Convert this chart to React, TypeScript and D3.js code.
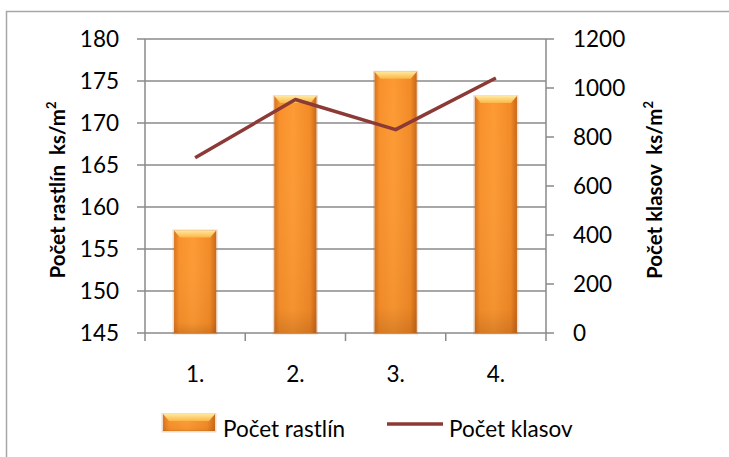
import React from 'react';
import * as d3 from 'd3';

// values
const categories = ['1.', '2.', '3.', '4.'];
const plantCount = [157.2, 173.2, 176.1, 173.2]; // Počet rastlín ks/m²
const earCount = [715, 953, 830, 1041]; // Počet klasov ks/m²
const leftTicks = [145, 150, 155, 160, 165, 170, 175, 180];
const rightTicks = [0, 200, 400, 600, 800, 1000, 1200];

const W = 729;
const H = 457;
const FONT = 'Lato, "Open Sans", sans-serif';
const GRID = '#8a8a8a';
const FS = 22.5;

export default function App() {
  const plot = { left: 145, right: 546, top: 39, bottom: 333 };

  const x = d3
    .scaleBand<string>()
    .domain(categories)
    .range([plot.left, plot.right])
    .paddingInner(0.58)
    .paddingOuter(0.29);
  const step = x.step();
  const yL = d3.scaleLinear().domain([145, 180]).range([plot.bottom, plot.top]);
  const yR = d3.scaleLinear().domain([0, 1200]).range([plot.bottom, plot.top]);

  const line = d3
    .line<number>()
    .x((_, i) => (x(categories[i]) as number) + x.bandwidth() / 2)
    .y((d) => yR(d));

  const bw = x.bandwidth();

  const bar = (x0: number, y0: number, w: number, h: number, key: string) => {
    const bev = Math.min(7, h / 2);
    return (
      <g key={key}>
        <rect x={x0 - 1.5} y={y0 - 1} width={w + 3} height={h + 2.5} fill="#b0601c" opacity={0.22} />
        <rect x={x0} y={y0} width={w} height={h} fill="url(#barFill)" />
        <rect x={x0} y={y0} width={w} height={h} fill="url(#barShade)" />
        <path
          d={`M${x0},${y0}H${x0 + w}L${x0 + w - 6},${y0 + bev}H${x0 + 6}Z`}
          fill="url(#barTop)"
        />
      </g>
    );
  };

  const ctrY = (plot.top + plot.bottom) / 2 + 4;

  return (
    <svg
      width={W}
      height={H}
      style={{ position: 'absolute', left: 0, top: 0, background: '#fff' }}
      fontFamily={FONT}
    >
      <defs>
        <linearGradient id="barFill" x1="0" x2="1" y1="0" y2="0">
          <stop offset="0%" stopColor="#d8731c" />
          <stop offset="12%" stopColor="#f8902a" />
          <stop offset="45%" stopColor="#fd9a33" />
          <stop offset="85%" stopColor="#f28a26" />
          <stop offset="100%" stopColor="#c86716" />
        </linearGradient>
        <linearGradient id="barShade" x1="0" x2="0" y1="0" y2="1">
          <stop offset="0%" stopColor="#fff" stopOpacity={0} />
          <stop offset="90%" stopColor="#8a4410" stopOpacity={0.08} />
          <stop offset="100%" stopColor="#8a4410" stopOpacity={0.3} />
        </linearGradient>
        <linearGradient id="barTop" x1="0" x2="0" y1="0" y2="1">
          <stop offset="0%" stopColor="#ffe89e" />
          <stop offset="100%" stopColor="#fcb645" />
        </linearGradient>
      </defs>

      {/* outer frame */}
      <path d={`M6.5,${H}V11.5H${W}`} fill="none" stroke="#a6a6a6" strokeWidth={1.5} />

      {/* gridlines */}
      {leftTicks.map((t) => (
        <line key={'g' + t} x1={plot.left} x2={plot.right} y1={yL(t)} y2={yL(t)} stroke={GRID} strokeWidth={1.5} />
      ))}

      {/* left axis */}
      <line x1={plot.left} x2={plot.left} y1={plot.top} y2={plot.bottom} stroke={GRID} strokeWidth={1.5} />
      {leftTicks.map((t) => (
        <g key={'l' + t}>
          <line x1={plot.left - 8} x2={plot.left} y1={yL(t)} y2={yL(t)} stroke={GRID} strokeWidth={1.5} />
          <text x={119} y={yL(t) + 8} textAnchor="end" fontSize={FS} fill="#000">
            {t}
          </text>
        </g>
      ))}

      {/* right axis */}
      <line x1={plot.right} x2={plot.right} y1={plot.top} y2={plot.bottom} stroke={GRID} strokeWidth={1.5} />
      {rightTicks.map((t) => (
        <g key={'r' + t}>
          <line x1={plot.right} x2={plot.right + 8} y1={yR(t)} y2={yR(t)} stroke={GRID} strokeWidth={1.5} />
          <text x={573} y={yR(t) + 8} textAnchor="start" fontSize={FS} fill="#000">
            {t}
          </text>
        </g>
      ))}

      {/* category axis ticks */}
      {d3.range(categories.length + 1).map((i) => {
        const tx = plot.left + i * step;
        return <line key={'c' + i} x1={tx} x2={tx} y1={plot.bottom} y2={plot.bottom + 8} stroke={GRID} strokeWidth={1.5} />;
      })}
      {categories.map((c) => (
        <text key={'cl' + c} x={(x(c) as number) + bw / 2} y={382} textAnchor="middle" fontSize={FS} fill="#000">
          {c}
        </text>
      ))}

      {/* bars */}
      {plantCount.map((v, i) => {
        const x0 = x(categories[i]) as number;
        return bar(x0, yL(v), bw, plot.bottom - yL(v), 'b' + i);
      })}

      {/* line series */}
      <path d={line(earCount) || ''} fill="none" stroke="#8c3a35" strokeWidth={3.5} strokeLinejoin="round" />

      {/* axis titles */}
      <text
        transform={`translate(65,${ctrY}) rotate(-90)`}
        textAnchor="middle"
        fontSize={20.5}
        fontWeight="bold"
        fill="#000"
      >
        {'Počet rastlín\u00a0 ks/m'}
        <tspan fontSize={13} dy={-9}>2</tspan>
      </text>
      <text
        transform={`translate(662,${ctrY}) rotate(-90)`}
        textAnchor="middle"
        fontSize={20.5}
        fontWeight="bold"
        fill="#000"
      >
        {'Počet klasov\u00a0 ks/m'}
        <tspan fontSize={13} dy={-9}>2</tspan>
      </text>

      {/* legend */}
      {bar(163, 414, 52, 17, 'legbar')}
      <text x={223} y={437} fontSize={FS} fill="#000">
        Počet rastlín
      </text>
      <line x1={387} x2={443} y1={424} y2={424} stroke="#8c3a35" strokeWidth={3.5} />
      <text x={449} y={437} fontSize={FS} fill="#000">
        Počet klasov
      </text>
    </svg>
  );
}
